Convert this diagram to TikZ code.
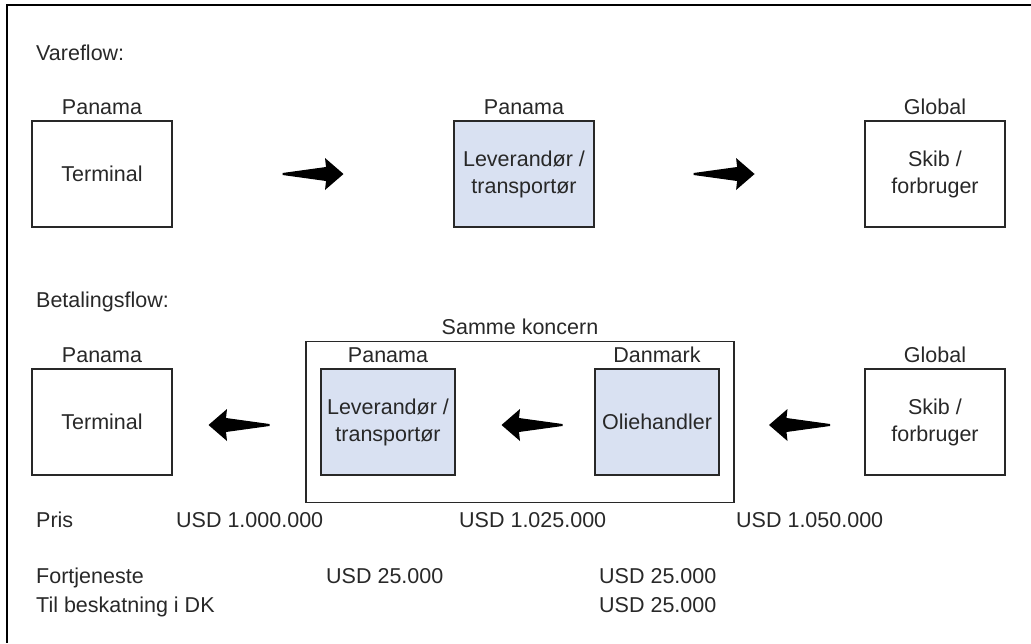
\documentclass[tikz,border=0pt]{standalone}
\usepackage{fontspec}
\setmainfont{Liberation Sans}
\usetikzlibrary{positioning,calc,fit}
\definecolor{boxblue}{RGB}{217,225,242}
\definecolor{inkgray}{RGB}{40,40,40}

\begin{document}
\begin{tikzpicture}[x=1pt,y=-1pt,
  every node/.style={font=\fontsize{21.5}{27}\selectfont,text=inkgray},
  box/.style={draw=inkgray,line width=1.4pt,minimum width=140pt,minimum height=106pt,inner sep=0pt,outer sep=0pt,align=center},
  lbl/.style={anchor=base,inner sep=0pt},
  txt/.style={anchor=base west,inner sep=0pt},
  flowarrow/.pic={\fill[black] (-30.5,-1) -- (13,-7) -- (12,-16) -- (30.5,0) -- (12,16) -- (13,7) -- (-30.5,1) -- cycle;}]

  \useasboundingbox (0,0) rectangle (1031,643);
  \draw[line width=2pt,black] (1031,5) -- (7,5) -- (7,643);

  \node[txt] (vareflow) at (36,60) {Vareflow:};

  \node[box] (term1) at (102,174) {Terminal};
  \node[box,fill=boxblue,right=282pt of term1] (lev1) {Leverandør /\\transportør};
  \node[box,right=271pt of lev1] (glob1) {Skib /\\forbruger};

  \node[lbl] (land1) at ([yshift=7pt]term1.north) {Panama};
  \node[lbl] (land2) at ([yshift=7pt]lev1.north) {Panama};
  \node[lbl] (land3) at ([yshift=7pt]glob1.north) {Global};

  \pic at ($(term1.east)!0.5!(lev1.west)$) {flowarrow};
  \pic at ($(lev1.east)!0.48!(glob1.west)$) {flowarrow};

  \node[txt] (betflow) at (36,307) {Betalingsflow:};

  \node[box,below=142pt of term1] (term2) {Terminal};
  \node[box,fill=boxblue,minimum width=134pt,right=149pt of term2] (lev2) {Leverandør /\\transportør};
  \node[box,fill=boxblue,minimum width=124pt,right=140pt of lev2] (oli2) {Oliehandler};
  \node[box,below=142pt of glob1] (glob2) {Skib /\\forbruger};
  \node[draw=inkgray,line width=1.4pt,inner xsep=15pt,inner ysep=27.5pt,outer sep=0pt,fit=(lev2)(oli2)] (koncern) {};

  \node[lbl] (koncernlbl) at ([yshift=7pt]koncern.north) {Samme koncern};
  \node[lbl] (land4) at ([yshift=7pt]term2.north) {Panama};
  \node[lbl] (land5) at ([yshift=7pt]lev2.north) {Panama};
  \node[lbl] (land6) at ([yshift=7pt]oli2.north) {Danmark};
  \node[lbl] (land7) at ([yshift=7pt]glob2.north) {Global};

  \pic[rotate=180] at ($(term2.east)!0.5!(koncern.west)+(0,3)$) {flowarrow};
  \pic[rotate=180] at ($(lev2.east)!0.55!(oli2.west)+(0,3)$) {flowarrow};
  \pic[rotate=180] at ($(koncern.east)!0.5!(glob2.west)+(0,3)$) {flowarrow};

  % priser og fortjeneste
  \node[txt] (pris) at (36,527) {Pris};
  \node[txt] (pris1) at (176,527) {USD 1.000.000};
  \node[txt] (pris2) at (459,527) {USD 1.025.000};
  \node[txt] (pris3) at (736,527) {USD 1.050.000};

  \node[txt] (fortj) at (36,583) {Fortjeneste};
  \node[txt] (fortj1) at (326,583) {USD 25.000};
  \node[txt] (fortj2) at (599,583) {USD 25.000};

  \node[txt] (skat) at (36,612) {Til beskatning i DK};
  \node[txt] (skat2) at (599,612) {USD 25.000};

\end{tikzpicture}
\end{document}
